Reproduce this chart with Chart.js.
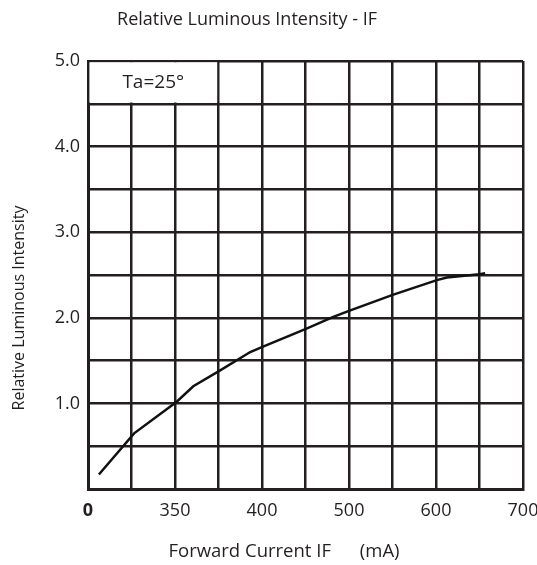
<!DOCTYPE html>
<html>
<head>
<meta charset="utf-8">
<script src="https://cdn.jsdelivr.net/npm/chart.js@4.4.1/dist/chart.umd.min.js"></script>
<style>
  html, body { margin: 0; padding: 0; background: #fff; }
  #wrap { width: 537px; height: 565px; }
</style>
</head>
<body>
<div id="wrap"><canvas id="myChart" width="537" height="565"></canvas></div>
<script>
// x is in grid divisions (0..10); the printed tick labels are odd, so map them
const xTickLabels = ["0", "", "350", "", "400", "", "500", "", "600", "", "700"];
const yTickLabels = ["", "1.0", "2.0", "3.0", "4.0", "5.0"];

const currentPos = [0.25, 1.06, 2.04, 2.42, 3.02, 3.73, 4.01, 5.01, 5.64, 6.0, 7.02, 8.02, 8.25, 9.0, 9.13];
const intensity = [0.17, 0.65, 1.02, 1.2, 1.38, 1.6, 1.66, 1.87, 2.01, 2.08, 2.27, 2.44, 2.47, 2.51, 2.52];

const chartTitle = "Relative Luminous Intensity - IF";
const xTitle = "Forward Current IF      (mA)";
const yTitle = "Relative Luminous Intensity";
const noteText = "Ta=25°";

const ink = "#231f20";
const fontFam = "'Open Sans', 'Noto Sans', sans-serif";

const points = currentPos.map((x, i) => ({ x, y: intensity[i] }));

const textPlugin = {
  id: "texts",
  beforeDatasetsDraw(chart) {
    const { ctx, scales } = chart;
    const x0 = scales.x.getPixelForValue(0);
    const x3 = scales.x.getPixelForValue(3);
    const y5 = scales.y.getPixelForValue(5);
    const y45 = scales.y.getPixelForValue(4.5);
    ctx.save();
    ctx.fillStyle = "#fff";
    ctx.fillRect(x0 + 1.4, y5 + 1.3, x3 - x0 - 2.7, y45 - y5 - 2.6);
    ctx.fillStyle = ink;
    ctx.font = "19px " + fontFam;
    ctx.textAlign = "center";
    ctx.textBaseline = "middle";
    ctx.fillText(noteText, (x0 + x3) / 2, (y5 + y45) / 2);
    ctx.restore();
  },
  afterDraw(chart) {
    const { ctx } = chart;
    ctx.save();
    ctx.fillStyle = ink;
    ctx.textAlign = "center";
    ctx.textBaseline = "middle";
    ctx.font = "18px " + fontFam;
    ctx.fillText(chartTitle, 247, 20);
    ctx.font = "18.5px " + fontFam;
    ctx.fillText(xTitle, 284, 552);
    ctx.font = "16px " + fontFam;
    ctx.translate(19, 308);
    ctx.rotate(-Math.PI / 2);
    ctx.fillText(yTitle, 0, 0);
    ctx.restore();
  },
};

new Chart(document.getElementById("myChart"), {
  type: "scatter",
  data: {
    datasets: [
      {
        data: points,
        showLine: true,
        borderColor: "#111",
        borderWidth: 2.5,
        pointRadius: 0,
        tension: 0,
      },
    ],
  },
  options: {
    responsive: false,
    animation: false,
    layout: { padding: { top: 61, right: 14, left: 0, bottom: 0 } },
    plugins: {
      legend: { display: false },
      tooltip: { enabled: false },
    },
    scales: {
      x: {
        type: "linear",
        min: 0,
        max: 10,
        afterFit: (scale) => {
          scale.height = 76;
          scale.paddingLeft = 0;
          scale.paddingRight = 0;
        },
        afterBuildTicks: (scale) => {
          scale.ticks = xTickLabels.map((_, i) => ({ value: i }));
        },
        grid: { color: ink, lineWidth: 2.5, drawTicks: false },
        border: { color: ink, width: 3 },
        ticks: {
          padding: 11,
          color: ink,
          autoSkip: false,
          maxRotation: 0,
          font: (c) => ({ size: 18, family: fontFam, weight: c.index === 0 ? "bold" : "normal" }),
          callback: (v, i) => xTickLabels[i],
        },
      },
      y: {
        type: "linear",
        min: 0,
        max: 5,
        afterFit: (scale) => { scale.width = 88; },
        afterBuildTicks: (scale) => {
          const t = [];
          for (let v = 0; v <= 5; v += 0.5) t.push({ value: v });
          scale.ticks = t;
        },
        grid: { color: ink, lineWidth: 2.5, drawTicks: false },
        border: { color: ink, width: 3 },
        ticks: {
          padding: 8,
          color: ink,
          font: { size: 18, family: fontFam },
          callback: (v) => (Number.isInteger(v) ? yTickLabels[v] : ""),
        },
      },
    },
  },
  plugins: [textPlugin],
});
</script>
</body>
</html>
